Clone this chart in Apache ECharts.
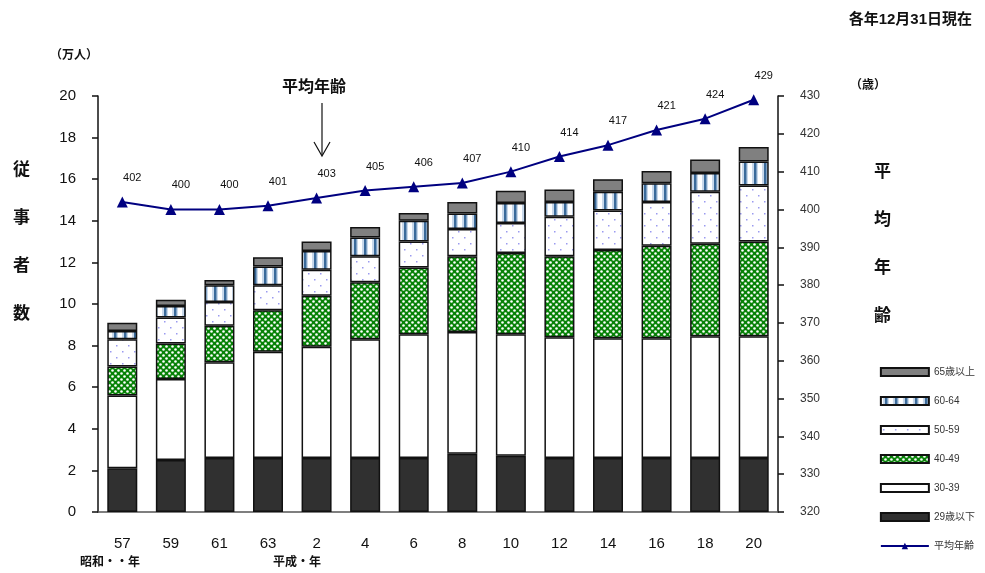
<!DOCTYPE html>
<html>
<head>
<meta charset="utf-8">
<script src="https://cdn.jsdelivr.net/npm/echarts@6/dist/echarts.min.js"></script>
<style>
  html, body { margin: 0; padding: 0; background: #fff; }
  #chart { width: 985px; height: 573px; }
</style>
</head>
<body>
<div id="chart"></div>
<script>
// 年（昭和57〜平成20）
var years = ['57', '59', '61', '63', '2', '4', '6', '8', '10', '12', '14', '16', '18', '20'];

// 年齢階級別 従事者数（万人）
var age29 = [2.1, 2.5, 2.6, 2.6, 2.6, 2.6, 2.6, 2.8, 2.7, 2.6, 2.6, 2.6, 2.6, 2.6];
var age30 = [3.5, 3.9, 4.6, 5.1, 5.35, 5.7, 5.95, 5.85, 5.85, 5.8, 5.75, 5.75, 5.85, 5.85];
var age40 = [1.4, 1.7, 1.75, 2.0, 2.45, 2.75, 3.2, 3.65, 3.9, 3.9, 4.25, 4.45, 4.45, 4.55];
var age50 = [1.3, 1.25, 1.15, 1.2, 1.25, 1.25, 1.25, 1.3, 1.45, 1.9, 1.9, 2.1, 2.5, 2.7];
var age60 = [0.4, 0.55, 0.8, 0.9, 0.9, 0.9, 1.0, 0.75, 0.95, 0.7, 0.9, 0.9, 0.9, 1.15];
var age65 = [0.4, 0.3, 0.25, 0.45, 0.45, 0.5, 0.38, 0.55, 0.6, 0.6, 0.6, 0.6, 0.65, 0.7];

// 平均年齢（表示は小数点なし、402 = 40.2歳）
var avgAge = [402, 400, 400, 401, 403, 405, 406, 407, 410, 414, 417, 421, 424, 429];

var leftTicks = { min: 0, max: 20, interval: 2 };
var rightTicks = { min: 320, max: 430, interval: 10 };

var font = '"Liberation Sans", "Noto Sans CJK JP", sans-serif';

/* パターン塗り用のcanvasを作る */
function makePattern(w, h, draw) {
    var c = document.createElement('canvas');
    c.width = w;
    c.height = h;
    var ctx = c.getContext('2d');
    draw(ctx);
    return { image: c, repeat: 'repeat' };
}

var greenCheck = makePattern(6, 6, function (ctx) {
    ctx.fillStyle = '#078207';
    ctx.fillRect(0, 0, 6, 6);
    ctx.fillStyle = '#ffffff';
    ctx.beginPath(); ctx.arc(1.5, 1.5, 1.3, 0, Math.PI * 2); ctx.fill();
    ctx.beginPath(); ctx.arc(4.5, 4.5, 1.3, 0, Math.PI * 2); ctx.fill();
});

var blueDots = makePattern(12, 12, function (ctx) {
    ctx.fillStyle = '#ffffff';
    ctx.fillRect(0, 0, 12, 12);
    ctx.fillStyle = '#9a9af0';
    ctx.fillRect(2, 3, 1.5, 1.5);
    ctx.fillRect(8, 9, 1.5, 1.5);
});

var blueStripes = makePattern(10, 4, function (ctx) {
    ctx.fillStyle = '#ffffff';
    ctx.fillRect(0, 0, 10, 4);
    ctx.fillStyle = '#c8d8ea';
    ctx.fillRect(2, 0, 6, 4);
    ctx.fillStyle = '#3a6a9a';
    ctx.fillRect(4, 0, 2.5, 4);
});

function barSeries(name, data, fill) {
    return {
        name: name,
        type: 'bar',
        stack: 'total',
        barWidth: 30,
        yAxisIndex: 0,
        data: data,
        itemStyle: {
            color: fill,
            borderColor: '#111',
            borderWidth: 1.5,
        },
        emphasis: { disabled: true },
    };
}

var chartOption = {
    animation: false,
    textStyle: { fontFamily: font, color: '#000' },
    grid: {
        left: 98,
        right: 207,
        top: 96,
        bottom: 61,
        containLabel: false,
    },
    legend: {
        orient: 'vertical',
        right: 5,
        top: 362,
        itemWidth: 48,
        itemHeight: 8,
        itemGap: 19,
        textStyle: { fontSize: 10, color: '#333', fontFamily: font },
        data: [
            { name: '65歳以上', icon: 'rect' },
            { name: '60-64', icon: 'rect' },
            { name: '50-59', icon: 'rect' },
            { name: '40-49', icon: 'rect' },
            { name: '30-39', icon: 'rect' },
            { name: '29歳以下', icon: 'rect' },
            '平均年齢'
        ],
    },
    xAxis: {
        type: 'category',
        data: years,
        axisLine: { lineStyle: { color: '#555', width: 1.5 } },
        axisTick: { show: false },
        axisLabel: { fontSize: 15, color: '#111', margin: 24 },
    },
    yAxis: [
        {
            type: 'value',
            min: leftTicks.min,
            max: leftTicks.max,
            interval: leftTicks.interval,
            position: 'left',
            axisLine: { show: true, lineStyle: { color: '#111', width: 1.5 } },
            axisTick: { show: true, length: 6, lineStyle: { color: '#111', width: 1.5 } },
            axisLabel: { fontSize: 15, color: '#111', margin: 22 },
            splitLine: { show: false },
        },
        {
            type: 'value',
            min: rightTicks.min,
            max: rightTicks.max,
            interval: rightTicks.interval,
            position: 'right',
            axisLine: { show: true, lineStyle: { color: '#111', width: 1.5 } },
            axisTick: { show: true, length: 6, lineStyle: { color: '#111', width: 1.5 } },
            axisLabel: { fontSize: 12, color: '#333', margin: 22 },
            splitLine: { show: false },
        }
    ],
    series: [
        barSeries('29歳以下', age29, '#303030'),
        barSeries('30-39', age30, '#ffffff'),
        barSeries('40-49', age40, greenCheck),
        barSeries('50-59', age50, blueDots),
        barSeries('60-64', age60, blueStripes),
        barSeries('65歳以上', age65, '#808080'),
        {
            name: '平均年齢',
            type: 'line',
            yAxisIndex: 1,
            data: avgAge,
            symbol: 'triangle',
            symbolSize: 11,
            itemStyle: { color: '#000080' },
            lineStyle: { color: '#000080', width: 2 },
            label: {
                show: true,
                position: 'top',
                offset: [10, -8],
                fontSize: 11,
                color: '#111',
            },
            z: 5,
        }
    ],
    graphic: [
        { type: 'text', right: 13, top: 12, style: { text: '各年12月31日現在', font: 'bold 15px ' + font, fill: '#111' } },
        { type: 'text', left: 50, top: 50, style: { text: '（万人）', font: 'bold 12px ' + font, fill: '#111' } },
        { type: 'text', left: 850, top: 80, style: { text: '（歳）', font: 'bold 12px ' + font, fill: '#111' } },
        { type: 'text', left: 13, top: 158, style: { text: '従\n\n事\n\n者\n\n数', font: 'bold 17px ' + font, fill: '#111', lineHeight: 24 } },
        { type: 'text', left: 874, top: 160, style: { text: '平\n\n均\n\n年\n\n齢', font: 'bold 17px ' + font, fill: '#111', lineHeight: 24 } },
        { type: 'text', left: 282, top: 80, style: { text: '平均年齢', font: 'bold 16px ' + font, fill: '#111' } },
        { type: 'line', shape: { x1: 322, y1: 103, x2: 322, y2: 155 }, style: { stroke: '#111', lineWidth: 1.2 } },
        { type: 'polyline', shape: { points: [[314, 142], [322, 156], [330, 142]] }, style: { stroke: '#111', lineWidth: 1.2, fill: null } },
        { type: 'text', left: 80, top: 557, style: { text: '昭和・・年', font: 'bold 12px ' + font, fill: '#111' } },
        { type: 'text', left: 273, top: 557, style: { text: '平成・年', font: 'bold 12px ' + font, fill: '#111' } },
    ],
};

var chart = echarts.init(document.getElementById('chart'));
chart.setOption(chartOption);
</script>
</body>
</html>
